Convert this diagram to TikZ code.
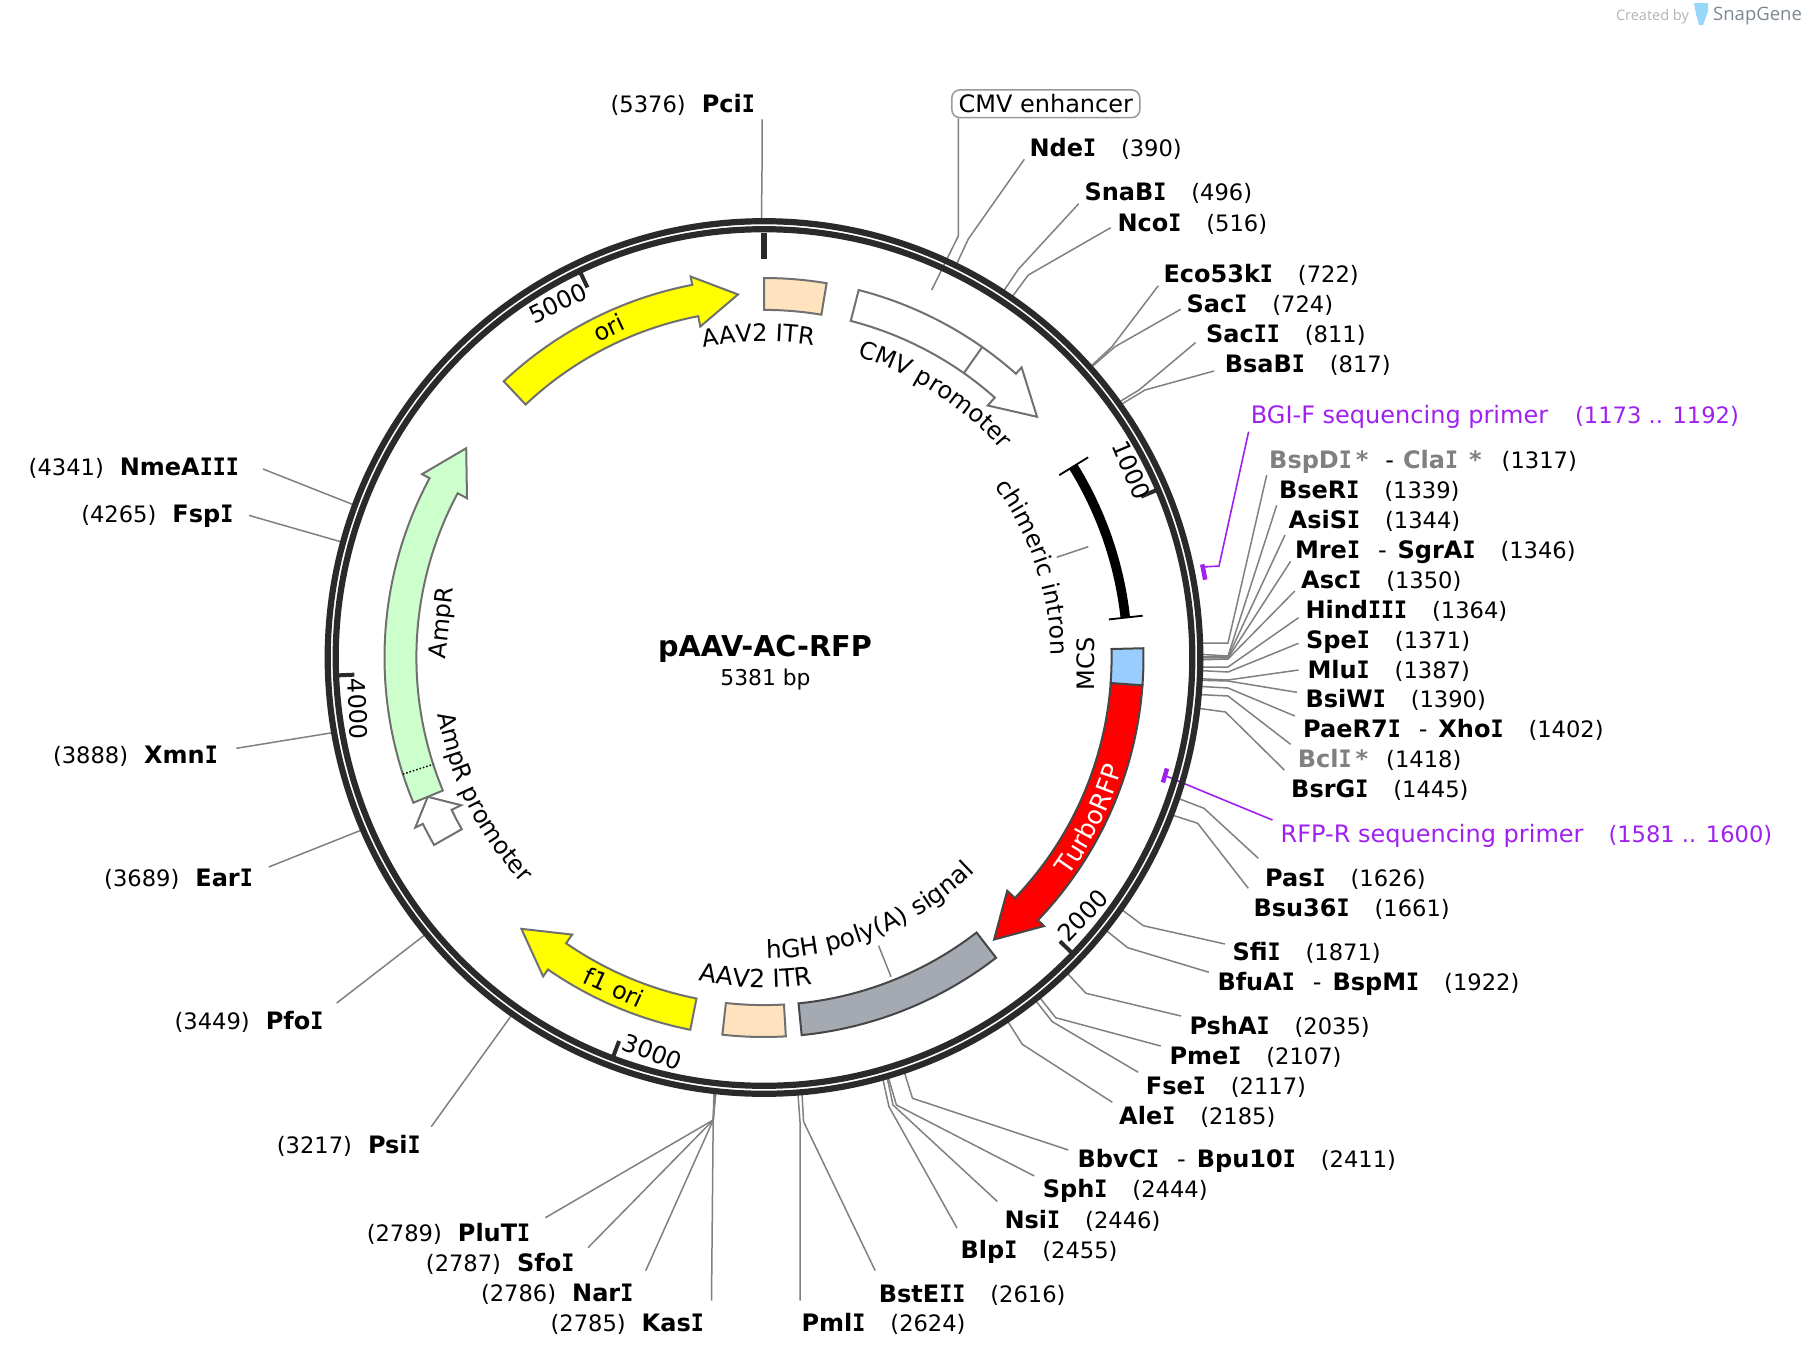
\documentclass[tikz,border=0pt]{standalone}
\usepackage{fontspec}
\usepackage{xstring}
\noexpandarg
\setmainfont{DejaVu Sans}
\newfontfamily\logofont{Open Sans}
\newfontfamily\slabfont{DejaVu Sans Mono}[FakeStretch=0.9]
\usetikzlibrary{calc, decorations.text}
\definecolor{RingDark}{RGB}{42, 42, 42}
\definecolor{LeaderGray}{RGB}{128, 128, 128}
\definecolor{FeatEdge}{RGB}{112, 112, 112}
\definecolor{FeatDark}{RGB}{70, 70, 70}
\definecolor{PrimerPurple}{RGB}{160, 32, 240}
\definecolor{OriYellow}{RGB}{255, 255, 0}
\definecolor{ItrPeach}{RGB}{255, 226, 190}
\definecolor{AmpGreen}{RGB}{204, 255, 204}
\definecolor{McsBlue}{RGB}{153, 204, 255}
\definecolor{PolyGray}{RGB}{165, 170, 178}
\definecolor{LogoBlue}{RGB}{150, 215, 250}
\definecolor{LogoGray}{RGB}{125, 135, 145}
\newcommand{\featfont}{\fontsize{24}{28}\selectfont}
\newcommand{\numfont}{\fontsize{22.6}{26}\selectfont}
% enzyme names take a capital I with serifs
\newcommand{\slabI}{{\slabfont I}}
\newcommand{\enzname}[1]{\textbf{\StrSubstitute{#1}{I}{\slabI}}}
% enzyme labels: right side, left side, two enzymes
\newcommand{\enzR}[2]{\enzname{#1}\hspace{25pt}{\numfont(#2)}}
\newcommand{\enzL}[2]{{\numfont(#2)}\hspace{16pt}\enzname{#1}}
\newcommand{\enzD}[3]{\enzname{#1}\hspace{18pt}-\hspace{11pt}\enzname{#2}\hspace{25pt}{\numfont(#3)}}
% one cut site: name, bp, bend, end of leader, label position, label
\newcommand{\cutsite}[7][sitelabel]{%
    \pgfmathsetmacro\siteang{#3/5381*360-90}
    \coordinate (#2ring) at ([shift={(764,657.5)}]\siteang:436);
    \coordinate (#2bend) at (#4);
    \coordinate (#2end) at (#5);
    \node[#1] (#2) at (#6) {#7};
    \draw[leader] (#2ring) -- (#2bend) -- (#2end);
}
% features are drawn in the scope centred on the ring
\newcommand{\featarrow}[4]{%
    \draw[feat, fill=#1] (#2:379.5) arc[start angle=#2, end angle=#3, radius=379.5] -- (#3:388) -- (#4:364) -- (#3:337) -- (#3:347.6) arc[start angle=#3, end angle=#2, radius=347.6] -- cycle;
}
\newcommand{\featblock}[3]{%
    \draw[feat, fill=#1] (#2:379.5) arc[start angle=#2, end angle=#3, radius=379.5] -- (#3:347.6) arc[start angle=#3, end angle=#2, radius=347.6] -- cycle;
}
\newcommand{\arclabel}[5][24]{%
    \path[decorate, decoration={text along path, text={|\fontsize{#1}{28}\selectfont|#2}, text align=center}] (#3:#5) arc[start angle=#3, end angle=#4, radius=#5];
}
\begin{document}
\begin{tikzpicture}[
        x=1pt, y=-1pt,
        font=\featfont,
        leader/.style={LeaderGray, line width=1.5pt},
        primer/.style={PrimerPurple, line width=1.6pt},
        primerbar/.style={PrimerPurple, line width=4.5pt},
        feat/.style={draw=FeatEdge, line width=2pt, line join=miter},
        ringline/.style={draw=RingDark, line width=6.2pt},
        tickmark/.style={RingDark, line width=4pt},
        sitelabel/.style={anchor=base west, inner sep=0pt, yshift=-1pt},
        sitelabelL/.style={anchor=base east, inner sep=0pt, yshift=-1pt}
    ]
    \useasboundingbox (0,0) rectangle (1808,1360);

    % cut sites, clockwise from the top
    \cutsite[sitelabelL]{PciI}{5376}{762,170}{762,119.3}{755,111.7}{\enzL{PciI}{5376}}
    \cutsite{NdeI}{390}{968.3,239}{1024.3,159.3}{1029.3,155.7}{\enzR{NdeI}{390}}
    \cutsite{SnaBI}{496}{1018.3,269.3}{1078.7,203.7}{1084.3,199.3}{\enzR{SnaBI}{496}}
    \cutsite{NcoI}{516}{1028.3,275}{1110.7,227.7}{1117.3,230}{\enzR{NcoI}{516}}
    \cutsite{EcoIII}{722}{1112,346.7}{1158.3,285.7}{1163.3,281.7}{\enzR{Eco53kI}{722}}
    \cutsite{SacI}{724}{1115,346.7}{1180.7,309.3}{1186.5,311.7}{\enzR{SacI}{724}}
    \cutsite{SacII}{811}{1139,390}{1195.7,342.5}{1206,341.7}{\enzR{SacII}{811}}
    \cutsite{BsaBI}{817}{1145,390}{1214,371}{1224.6,371}{\enzR{BsaBI}{817}}

    \cutsite{BspDI}{1317}{1228,643}{1266.7,475}{1269,467.3}{{\color{LeaderGray}\enzname{BspDI}\hspace{4pt}\textbf{*}}\hspace{17pt}-\hspace{9pt}{\color{LeaderGray}\enzname{ClaI}\hspace{11pt}\textbf{*}}\hspace{20pt}{\numfont(1317)}}
    \cutsite{BseRI}{1339}{1228,656}{1276.7,505.3}{1278.8,497.3}{\enzR{BseRI}{1339}}
    \cutsite{AsiSI}{1344}{1228,657}{1285,535}{1288.5,527.3}{\enzR{AsiSI}{1344}}
    \cutsite{MreI}{1346}{1228,658}{1290.6,561.3}{1294.8,557.3}{\enzD{MreI}{SgrAI}{1346}}
    \cutsite{AscI}{1350}{1228,659}{1294.8,591}{1301,587.3}{\enzR{AscI}{1350}}
    \cutsite{HindIII}{1364}{1228,667}{1298.5,617.7}{1305.3,617.3}{\enzR{HindIII}{1364}}
    \cutsite{SpeI}{1371}{1228,672}{1298.5,643.3}{1306,647.3}{\enzR{SpeI}{1371}}
    \cutsite{MluI}{1387}{1228,680}{1298.5,670}{1307.3,677.3}{\enzR{MluI}{1387}}
    \cutsite{BsiWI}{1390}{1228,681}{1296.9,692.3}{1305.3,706}{\enzR{BsiWI}{1390}}
    \cutsite{PaeRVII}{1402}{1228,688}{1294.8,716}{1303,736.5}{\enzD{PaeR7I}{XhoI}{1402}}
    \cutsite{BclI}{1418}{1228,696}{1290.6,744.3}{1297.7,766.5}{{\color{LeaderGray}\enzname{BclI}\hspace{4pt}\textbf{*}}\hspace{18pt}{\numfont(1418)}}
    \cutsite{BsrGI}{1445}{1225.5,712}{1284.3,770}{1291,796.5}{\enzR{BsrGI}{1445}}

    \cutsite{PasI}{1626}{1204,808.3}{1258.3,858.3}{1265,885}{\enzR{PasI}{1626}}
    \cutsite{BsuXXXVI}{1661}{1197.7,823.3}{1248.3,888.3}{1253.3,915}{\enzR{Bsu36I}{1661}}
    \cutsite{SfiI}{1871}{1143.3,925.7}{1225,944}{1232.3,959}{\enzR{SfiI}{1871}}
    \cutsite{BfuAI}{1922}{1127.7,947.7}{1209,972.3}{1217.3,989}{\enzD{BfuAI}{BspMI}{1922}}
    \cutsite{PshAI}{2035}{1086,993.3}{1181,1016}{1189.3,1033.3}{\enzR{PshAI}{2035}}
    \cutsite{PmeI}{2107}{1055.7,1017.7}{1160.7,1046}{1169.3,1063.3}{\enzR{PmeI}{2107}}
    \cutsite{FseI}{2117}{1052.3,1021.7}{1138.3,1072.3}{1145.7,1093.3}{\enzR{FseI}{2117}}
    \cutsite{AleI}{2185}{1022.3,1044.3}{1112.3,1102.3}{1119,1123.3}{\enzR{AleI}{2185}}
    \cutsite{BbvCI}{2411}{912.5,1098.3}{1068.3,1150}{1077.3,1166.5}{\enzD{BbvCI}{Bpu10I}{2411}}
    \cutsite{SphI}{2444}{896.4,1105}{1034.3,1176}{1042.7,1196.5}{\enzR{SphI}{2444}}
    \cutsite{NsiI}{2446}{893,1105}{997.4,1201.5}{1004.4,1227}{\enzR{NsiI}{2446}}
    \cutsite{BlpI}{2455}{889,1106.7}{957,1228}{960.5,1257}{\enzR{BlpI}{2455}}
    \cutsite{BstEII}{2616}{803.6,1121.7}{875.2,1270.7}{878.7,1301}{\enzR{BstEII}{2616}}
    \cutsite{PmlI}{2624}{800,1121.7}{800,1300.7}{801.4,1330.6}{\enzR{PmlI}{2624}}

    \cutsite[sitelabelL]{KasI}{2785}{713.2,1120}{711.5,1300.7}{704,1330.6}{\enzL{KasI}{2785}}
    \cutsite[sitelabelL]{NarI}{2786}{713.2,1120}{645.7,1270.7}{633.5,1300.6}{\enzL{NarI}{2786}}
    \cutsite[sitelabelL]{SfoI}{2787}{713.2,1120}{588,1247.7}{574.5,1270.6}{\enzL{SfoI}{2787}}
    \cutsite[sitelabelL]{PluTI}{2789}{713.2,1120}{545.4,1217.7}{530.4,1240.7}{\enzL{PluTI}{2789}}
    \cutsite[sitelabelL]{PsiI}{3217}{510.3,1017}{431.3,1126.6}{420.9,1152.5}{\enzL{PsiI}{3217}}
    \cutsite[sitelabelL]{PfoI}{3449}{423.4,936}{336.7,1003}{323.5,1028}{\enzL{PfoI}{3449}}
    \cutsite[sitelabelL]{EarI}{3689}{359.6,830.8}{268.7,867}{253,885}{\enzL{EarI}{3689}}
    \cutsite[sitelabelL]{XmnI}{3888}{330.6,733}{236.4,748.3}{218,762.5}{\enzL{XmnI}{3888}}
    \cutsite[sitelabelL]{FspI}{4265}{339.6,541.4}{249,515.4}{233.5,521.5}{\enzL{FspI}{4265}}
    \cutsite[sitelabelL]{NmeAIII}{4341}{351.6,504}{263,469}{239,474.2}{\enzL{NmeAIII}{4341}}

    % primers
    \node[sitelabel, text=PrimerPurple] (bgif) at (1250.7,422.5) {BGI-F sequencing primer\hspace{27pt}{\numfont(1173 .. 1192)}};
    \coordinate (bgifbend) at (1219,566);
    \coordinate (bgifend) at (1248.6,431.7);
    \coordinate (bgifbar) at (1203,567);
    \draw[primer] (bgifbar) -- (bgifbend) -- (bgifend);
    \node[sitelabel, text=PrimerPurple] (rfpr) at (1280.5,841) {RFP-R sequencing primer\hspace{25pt}{\numfont(1581 .. 1600)}};
    \coordinate (rfprbend) at (1204.5,792);
    \coordinate (rfprend) at (1272.5,820);
    \coordinate (rfprbar) at (1166,776);
    \draw[primer] (rfprbar) -- (rfprbend) -- (rfprend);

    % CMV enhancer tag
    \node[draw=LeaderGray!80, line width=1.5pt, rounded corners=8pt, inner sep=0pt, minimum width=188pt, minimum height=27.7pt] (cmvenh) at (1045.8,103.8) {CMV enhancer};
    \coordinate (cmvbend) at (958.3,236);
    \coordinate (cmvend) at (931.7,290);
    \draw[leader] (cmvenh.south -| cmvbend) -- (cmvbend) -- (cmvend);

    \begin{scope}[shift={(764,657.5)}]
        % the ring and its ticks
        \draw[ringline] (0,0) circle[radius=436.3];
        \draw[ringline] (0,0) circle[radius=428.3];
        \draw[RingDark, line width=6pt] (-90:425) -- (-90:399);
        \foreach \tickang in {-23.1, 43.8, 110.7, 177.6, 244.5}
            \draw[tickmark] (\tickang:426) -- (\tickang:410);

        \draw[primerbar] (-12:448) arc[start angle=-12, end angle=-10, radius=448];
        \draw[primerbar] (15.4:418) arc[start angle=15.4, end angle=17.4, radius=418];

        % features
        \featblock{ItrPeach}{-90}{-80.5}
        \featarrow{white}{-75.55}{-48.4}{-41.4}
        \draw[feat] (-54.9:379.5) -- (-54.9:347.6);
        \featarrow{OriYellow}{-133.3}{-100.9}{-94.1}
        \draw[black, line width=9.5pt] (-31.7:363.5) arc[start angle=-31.7, end angle=-6.3, radius=363.5];
        \draw[black, line width=1.8pt] (-31.7:347) -- (-31.7:381);
        \draw[black, line width=1.8pt] (-6.3:347) -- (-6.3:381);
        \featarrow{red, draw=FeatDark}{4.2}{43.8}{50.8}
        \featblock{McsBlue, draw=FeatDark}{-1.4}{4.2}
        \featblock{PolyGray, draw=FeatDark}{52.3}{84.3}
        \featblock{ItrPeach}{86.7}{96.3}
        \featarrow{OriYellow}{101.2}{124.7}{131.8}
        \featarrow{white}{150.4}{154}{157.5}
        \featarrow{AmpGreen}{157.5}{208.2}{215.1}
        \draw[black, line width=1.5pt, dotted] (162.1:379.5) -- (162.1:347.6);

        % feature labels that follow the circle
        \arclabel{AAV2 ITR}{-112}{-70}{316}
        \arclabel{CMV promoter}{-80}{-34}{315}
        \arclabel{chimeric intron}{-45.5}{8.5}{287}
        \arclabel[24.8]{hGH poly(A) signal}{97}{38}{301}
        \arclabel[25]{AAV2 ITR}{113}{70}{330}
        \arclabel{AmpR promoter}{178}{129}{331}
        \path[decorate, decoration={text along path, text={|\fontsize{25.5}{28}\selectfont\color{white}|TurboRFP}, text align=center}] (46:375) arc[start angle=46, end angle=7, radius=375];
    \end{scope}

    % straight feature labels
    \node[inner sep=0pt, rotate=25] (orilabel) at (608.8,327.5) {ori};
    \node[inner sep=0pt, rotate=90] (mcslabel) at (1085.5,664) {MCS};
    \node[inner sep=0pt, rotate=-24.7] (foriabel) at (614,987.3) {f1 ori};
    \node[inner sep=0pt, rotate=83.9] (amprlabel) at (443,623) {AmpR};

    % short leaders from labels to features
    \coordinate (intronin) at (1056.7,557.3);
    \coordinate (intronout) at (1088.3,546.7);
    \draw[leader] (intronin) -- (intronout);
    \coordinate (polyin) at (878.6,945.7);
    \coordinate (polyout) at (891,976.7);
    \draw[leader] (polyin) -- (polyout);

    % ticks
    \node[inner sep=0pt, rotate=-66.9] (tickA) at (1131.5,470) {1000};
    \node[inner sep=0pt, rotate=46.2] (tickB) at (1083,915) {2000};
    \node[inner sep=0pt, rotate=-20.7] (tickC) at (652.5,1052) {3000};
    \node[inner sep=0pt, rotate=-87.6] (tickD) at (358,709) {4000};
    \node[inner sep=0pt, rotate=25.5] (tickE) at (558,303) {5000};

    % centre
    \node[font=\fontsize{28.7}{32}\selectfont\bfseries, inner sep=0pt] (plasmid) at (765,649) {pAAV-AC-RFP};
    \node[font=\fontsize{21.8}{26}\selectfont, inner sep=0pt] (length) at (765.5,679) {5381 bp};

    % SnapGene mark
    \node[anchor=base east, inner sep=0pt, text=LeaderGray!60, font=\logofont\fontsize{14.5}{17}\selectfont] (created) at (1689,20) {Created by};
    \fill[LogoBlue] (1694,3) -- (1708,3) -- (1708,11) -- (1703,25) -- (1699,25) -- (1696,14) -- cycle;
    \node[anchor=base west, inner sep=0pt, text=LogoGray, font=\logofont\fontsize{18.5}{22}\selectfont] (snapgene) at (1713,20) {SnapGene};
\end{tikzpicture}
\end{document}
